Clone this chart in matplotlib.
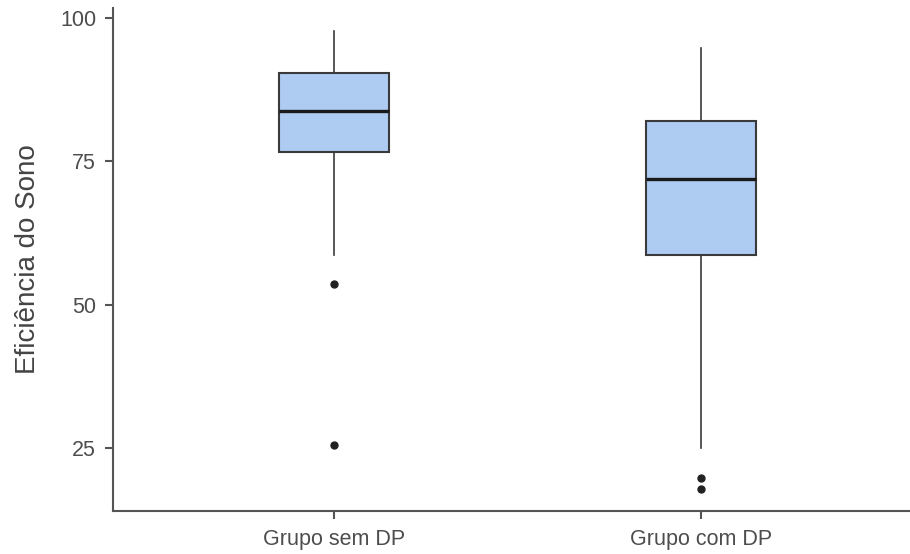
import matplotlib.pyplot as plt

plt.rcParams['font.family'] = ['Liberation Sans', 'DejaVu Sans']

# summary values
groups = ['Grupo sem DP', 'Grupo com DP']
whisker_low = [58.7, 25.0]
q1 = [76.7, 58.6]
median = [83.7, 71.9]
q3 = [90.4, 82.0]
whisker_high = [97.7, 94.8]
outliers = [[53.5, 25.5], [19.8, 17.8]]

stats = []
for i, name in enumerate(groups):
    stats.append({
        'label': name,
        'whislo': whisker_low[i],
        'q1': q1[i],
        'med': median[i],
        'q3': q3[i],
        'whishi': whisker_high[i],
        'fliers': outliers[i],
    })

fig = plt.figure(figsize=(9.1, 5.54), dpi=100)
ax = fig.add_axes([0.124, 0.078, 0.876, 0.908])

edge = '#3a3a3a'
ax.bxp(stats, positions=[1, 2], widths=0.30, patch_artist=True, showcaps=False,
       boxprops=dict(facecolor='#aecbf2', edgecolor=edge, linewidth=1.5),
       medianprops=dict(color='#1a1a1a', linewidth=2.4),
       whiskerprops=dict(color=edge, linewidth=1.2),
       flierprops=dict(marker='o', markerfacecolor='#222222', markeredgecolor='#222222',
                       markersize=5))

ax.set_xlim(0.398, 2.57)
ax.set_ylim(14.0, 101.8)
ax.set_yticks([25, 50, 75, 100])

for side in ['top', 'right']:
    ax.spines[side].set_visible(False)
for side in ['left', 'bottom']:
    ax.spines[side].set_color('#555555')
    ax.spines[side].set_linewidth(1.5)

ax.tick_params(axis='both', colors='#555555', labelcolor='#4d4d4d', labelsize=15.5,
               length=6, width=1.5)
ax.tick_params(axis='y', pad=6)
ax.tick_params(axis='x', pad=7)

ax.set_ylabel('Eficiência do Sono', fontsize=20, color='#444444', labelpad=14)

fig.savefig('out.png', dpi=100)
